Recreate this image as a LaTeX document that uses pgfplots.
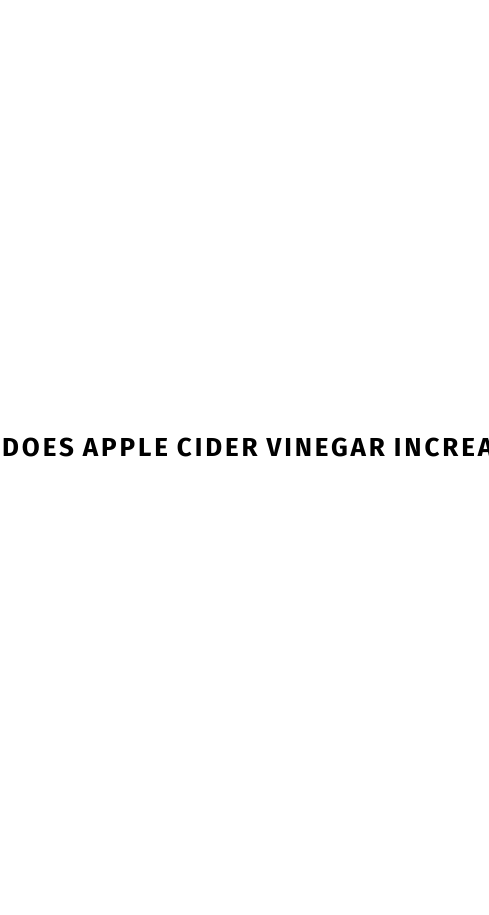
\documentclass[border=0pt]{standalone}
\usepackage{pgfplots}
\pgfplotsset{compat=1.18}
\usepackage{fontspec}
\setmainfont{Fira Sans}
\begin{document}
\begin{tikzpicture}
  \begin{axis}[
    hide axis,
    scale only axis,
    width=489bp, height=915bp,
    xmin=0, xmax=489,
    ymin=0, ymax=915,
    clip=false,
  ]
  % empty title band, text placed at pixel-like coordinates
  \addplot[draw=none, forget plot] coordinates {(0,0) (489,915)};
  \node[overlay, anchor=base west, inner sep=0pt,
        font=\fontsize{26bp}{26bp}\selectfont\bfseries\addfontfeature{LetterSpace=11}]
    at (axis cs:2,458) {DOES APPLE CIDER VINEGAR INCREASE};
  \end{axis}
\end{tikzpicture}
\end{document}
